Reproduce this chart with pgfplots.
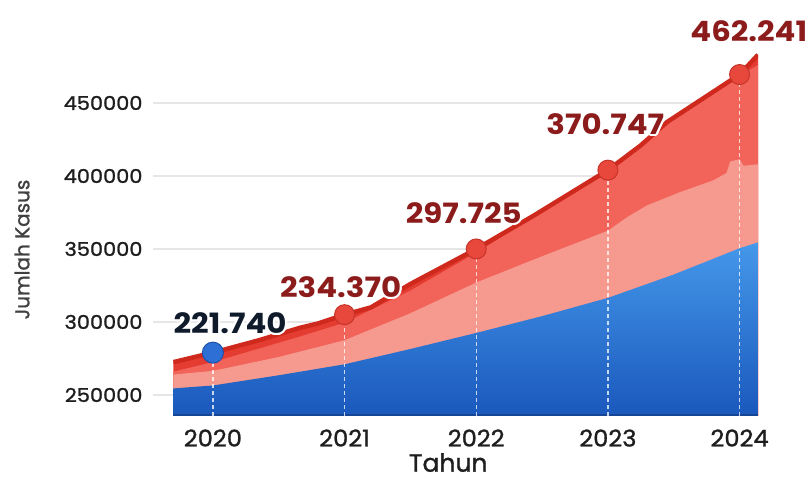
\documentclass[border=0pt]{standalone}
\usepackage{fontspec}
\setmainfont{Poppins}[FakeBold=1.2]
\newfontfamily\ytfont{Poppins}[FakeStretch=1.1, FakeBold=1.2]
\newfontfamily\xtfont{Poppins}[FakeStretch=1.05, FakeBold=1.2]
\newfontfamily\valfont{Poppins}[FakeStretch=1.1]
\usepackage{pgfplots}
\pgfplotsset{compat=1.18}
\usepackage{contour}
\contourlength{2.2pt}

\definecolor{gridgray}{HTML}{E6E6E6}
\definecolor{tickcol}{HTML}{1E1E1E}
\definecolor{blueTop}{HTML}{4598EA}
\definecolor{blueBot}{HTML}{1A58BC}
\definecolor{pinkA}{HTML}{F69A8F}
\definecolor{redMid}{HTML}{F2635A}
\definecolor{redBand}{HTML}{E43C31}
\definecolor{redLine}{HTML}{CF281D}
\definecolor{markRed}{HTML}{E8473C}
\definecolor{markRedEdge}{HTML}{C63428}
\definecolor{markBlue}{HTML}{2E6FD6}
\definecolor{markBlueEdge}{HTML}{1E50A8}
\definecolor{valRed}{HTML}{8C1C1C}
\definecolor{valNavy}{HTML}{0F1A2B}

\begin{document}
\begin{tikzpicture}
\begin{axis}[
    name=ax,
    scale only axis,
    width=605pt, height=406pt,
    xmin=2019.545, xmax=2024.14,
    ymin=235600, ymax=513700,
    axis line style={draw=none},
    major tick length=0pt,
    scaled ticks=false,
    xtick={2020,2021,2022,2023,2024},
    xticklabels={2020,2021,2022,2023,2024},
    ytick={250000,300000,350000,400000,450000},
    yticklabels={250000,300000,350000,400000,450000},
    xticklabel style={font=\xtfont\fontsize{23}{23}\selectfont, text=tickcol, yshift=-10pt},
    yticklabel style={font=\ytfont\fontsize{19}{19}\selectfont, text=tickcol, anchor=east, xshift=-7pt},
    ymajorgrids,
    major grid style={draw=gridgray, line width=1.8pt},
    clip mode=individual,
    xlabel={Tahun},
    ylabel={Jumlah Kasus},
    xlabel style={font=\fontsize{25}{25}\selectfont, text=tickcol, inner sep=0pt, text depth=0pt, at={(axis description cs:0.488,0)}, anchor=north, yshift=-37pt},
    ylabel style={font=\fontsize{20}{20}\selectfont, text=tickcol!85, at={(axis description cs:-0.2165,0.41)}, anchor=center, rotate=0},
]
% darker band under the top line
\addplot[draw=none, fill=redBand] coordinates {
  (2019.70,272500) (2020.00,279000) (2020.35,287500) (2020.66,296000)
  (2020.80,299000) (2021.00,305000) (2021.20,310000) (2021.50,326000)
  (2022.00,350000) (2022.43,372500) (2023.00,404000) (2023.25,421000)
  (2023.45,437000) (2024.00,469500) (2024.14,483000)
  (2024.14,235600) (2019.70,235600)} --cycle;
% red layer
\addplot[draw=none, fill=redMid] coordinates {
  (2019.70,266000) (2020.00,272500) (2020.66,290000) (2021.00,299500)
  (2021.50,321500) (2022.00,347500) (2022.43,371500) (2023.00,403000)
  (2023.45,436000) (2024.00,468500) (2024.14,476000)
  (2024.14,235600) (2019.70,235600)} --cycle;
% pink layer
\addplot[draw=none, fill=pinkA] coordinates {
  (2019.70,264000) (2020.00,266500) (2020.50,276000) (2021.00,287500)
  (2021.50,306000) (2022.00,327000) (2022.50,345000) (2023.00,362500)
  (2023.15,372000) (2023.30,380000) (2023.55,389000) (2023.80,397000)
  (2023.90,402000) (2023.93,410000) (2024.00,411500) (2024.03,407000)
  (2024.14,408000)
  (2024.14,235600) (2019.70,235600)} --cycle;
% blue layer
\addplot[draw=none, top color=blueTop, bottom color=blueBot] coordinates {
  (2019.70,254500) (2020.00,256500) (2020.50,263500) (2021.00,271000)
  (2021.50,281500) (2022.00,292500) (2022.50,304000) (2023.00,316500)
  (2023.50,332500) (2024.00,350500) (2024.14,354500)
  (2024.14,235600) (2019.70,235600)} --cycle;
\addplot[draw=blueBot!80!black, line width=3pt] coordinates {(2019.70,235600) (2024.14,235600)};
% dashed drop lines
\addplot[white, opacity=0.75, line width=1.3pt, dash pattern=on 4pt off 3pt] coordinates {(2020,235600) (2020,279000)};
\addplot[white, opacity=0.75, line width=1.3pt, dash pattern=on 4pt off 3pt] coordinates {(2021,235600) (2021,305000)};
\addplot[white, opacity=0.75, line width=1.3pt, dash pattern=on 4pt off 3pt] coordinates {(2022,235600) (2022,350000)};
\addplot[white, opacity=0.75, line width=1.3pt, dash pattern=on 4pt off 3pt] coordinates {(2023,235600) (2023,404000)};
\addplot[white, opacity=0.75, line width=1.3pt, dash pattern=on 4pt off 3pt] coordinates {(2024,235600) (2024,469500)};
% top line
\addplot[draw=redLine, line width=4.5pt, line join=round] coordinates {
  (2019.70,272500) (2020.00,279000) (2020.35,287500) (2020.66,296000)
  (2020.80,299000) (2021.00,305000) (2021.20,310000) (2021.50,326000)
  (2022.00,350000) (2022.43,372500) (2023.00,404000) (2023.25,421000)
  (2023.45,437000) (2024.00,469500) (2024.14,483000)};
% markers
\addplot[only marks, mark=*, mark size=10pt, mark options={fill=markRed, draw=markRedEdge, line width=1pt}] coordinates {
  (2021,305000) (2022,350000) (2023,404000) (2024,469500)};
\addplot[only marks, mark=*, mark size=10.5pt, mark options={fill=markBlue, draw=markBlueEdge, line width=1pt}] coordinates {
  (2020,279000)};
% value labels
\node[font=\valfont\bfseries\fontsize{28}{28}\selectfont, text=valNavy] at (axis cs:2020.13,298600) {\contour{white}{221.740}};
\node[font=\valfont\bfseries\fontsize{28}{28}\selectfont, text=valRed] at (axis cs:2020.97,323300) {\contour{white}{234.370}};
\node[font=\valfont\bfseries\fontsize{28}{28}\selectfont, text=valRed] at (axis cs:2021.905,374000) {\contour{white}{297.725}};
\node[font=\valfont\bfseries\fontsize{28}{28}\selectfont, text=valRed] at (axis cs:2022.98,434900) {\contour{white}{370.747}};
\node[font=\valfont\bfseries\fontsize{28}{28}\selectfont, text=valRed] at (axis cs:2024.07,498600) {\contour{white}{462.241}};
\end{axis}
\pgfresetboundingbox
\path[use as bounding box] ([xshift=-153pt,yshift=-63pt]ax.south west) rectangle ([xshift=54pt,yshift=10pt]ax.north east);
\end{tikzpicture}
\end{document}
